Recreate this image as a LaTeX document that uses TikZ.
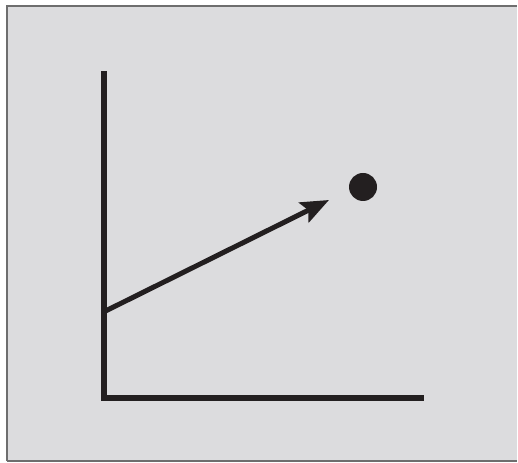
\documentclass[tikz,border=0pt]{standalone}
\usetikzlibrary{arrows.meta}
\definecolor{bg}{HTML}{DCDCDE}
\definecolor{ink}{HTML}{231F20}
\definecolor{frame}{HTML}{6E6E6E}
\begin{document}
\begin{tikzpicture}[x=1pt,y=1pt,
  axisline/.style={draw=ink,line width=6pt},
  vecline/.style={draw=ink,line width=5pt,-{Stealth[length=28pt,width=22pt,inset=5pt]}}]
\useasboundingbox (0,0) rectangle (518,462);
\fill[bg] (7,1) rectangle (517,456);
\draw[frame,line width=1.2pt] (7,1) -- (7,456) -- (517,456);
\draw[frame,line width=1.5pt] (7,1) -- (517,1);
\coordinate (top) at (103.5,391);
\coordinate (origin) at (103.5,63.5);
\coordinate (right) at (424,63.5);
\coordinate (start) at (103.5,150);
\coordinate (tip) at (329,262);
\draw[axisline,line join=miter] (top) -- (origin) -- (right);
\draw[vecline] (start) -- (tip);
\node[circle,fill=ink,minimum size=28pt,inner sep=0pt] (dot) at (363,275) {};
\end{tikzpicture}
\end{document}
